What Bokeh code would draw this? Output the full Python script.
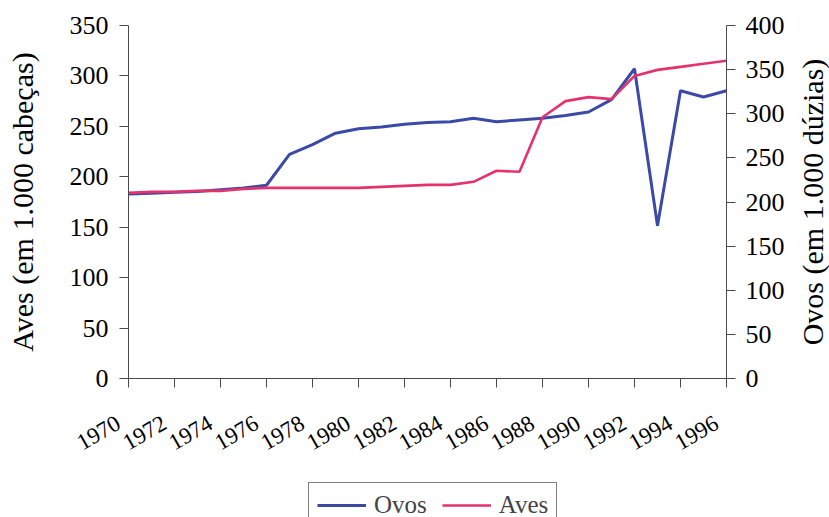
import math
from bokeh.plotting import figure
from bokeh.layouts import column, row
from bokeh.models import Range1d, LinearAxis, FixedTicker, Legend, LegendItem, Title
from bokeh.embed import file_html
from bokeh.resources import INLINE

years = list(range(1970, 1997))
ovos = [209, 210, 211, 212, 214, 216, 219, 254, 265, 278, 283, 285, 288, 290,
        291, 295, 291, 293, 295, 298, 302, 316, 351, 173, 326, 319, 326]
aves = [184, 185, 185, 186, 186, 188, 189, 189, 189, 189, 189, 190, 191, 192,
        192, 195, 206, 205, 259, 275, 279, 277, 300, 306, 309, 312, 315]
x_ticks = list(range(1970, 1997, 2))
left_ticks = list(range(0, 351, 50))
right_ticks = list(range(0, 401, 50))

FONT = "Liberation Serif"
BLUE = "#3a4aa6"
PINK = "#e5326c"
AXC = "#4a4a4a"
NBSP = "\u00a0"

p = figure(width=787, height=479, output_backend="svg", toolbar_location=None,
           x_range=Range1d(1970, 1996), y_range=Range1d(0, 350),
           min_border_left=128, min_border_right=58, min_border_top=25,
           min_border_bottom=101)
p.extra_y_ranges = {"ovos": Range1d(0, 400)}
p.outline_line_color = None
p.xgrid.visible = False
p.ygrid.visible = False
p.background_fill_color = "white"
p.border_fill_color = "white"

r_ovos = p.line(years, ovos, y_range_name="ovos", line_color=BLUE, line_width=3)
r_aves = p.line(years, aves, line_color=PINK, line_width=2.6)

right = LinearAxis(y_range_name="ovos")
p.add_layout(right, "right")

for ax in [p.xaxis[0], p.yaxis[0], right]:
    ax.axis_line_color = AXC
    ax.axis_line_width = 1
    ax.major_tick_line_color = AXC
    ax.major_tick_out = 9
    ax.major_tick_in = 0
    ax.minor_tick_out = 0
    ax.minor_tick_in = 0
    ax.major_label_text_font = FONT
    ax.major_label_text_font_size = "26px"
    ax.major_label_text_color = "black"
    ax.axis_label_text_font = FONT
    ax.axis_label_text_font_size = "30px"
    ax.axis_label_text_font_style = "normal"
    ax.axis_label_text_color = "black"

xa = p.xaxis[0]
xa.ticker = FixedTicker(ticks=x_ticks)
xa.major_label_overrides = {t: str(t) + NBSP * 2 for t in x_ticks}
xa.major_label_text_font_size = "23px"
xa.major_label_orientation = math.pi / 6
xa.major_label_standoff = 28

p.yaxis[0].ticker = FixedTicker(ticks=left_ticks)
p.yaxis[0].axis_label = "Aves (em 1.000 cabeças)"
p.yaxis[0].major_label_standoff = 11
p.yaxis[0].axis_label_standoff = 28

right.ticker = FixedTicker(ticks=right_ticks)
right.major_label_standoff = 10

# right-hand axis title, reading bottom to top like the left one
tfig = figure(width=42, height=479, output_backend="svg", toolbar_location=None,
              x_range=Range1d(0, 1), y_range=Range1d(0, 1),
              min_border_left=41, min_border_right=0, min_border_top=25,
              min_border_bottom=101)
tfig.axis.visible = False
tfig.xgrid.visible = False
tfig.ygrid.visible = False
tfig.outline_line_color = None
tfig.background_fill_color = "white"
tfig.border_fill_color = "white"
tfig.add_layout(Title(text="Ovos (em 1.000 dúzias)", align="center",
                      text_font=FONT, text_font_size="30px",
                      text_font_style="normal", text_color="black",
                      standoff=0), "left")

# legend strip below the chart
leg = figure(width=829, height=38, output_backend="svg", toolbar_location=None,
             x_range=Range1d(0, 1), y_range=Range1d(0, 1),
             min_border_left=128, min_border_right=0, min_border_top=0,
             min_border_bottom=0)
leg.axis.visible = False
leg.xgrid.visible = False
leg.ygrid.visible = False
leg.outline_line_color = None
leg.background_fill_color = "white"
leg.border_fill_color = "white"
nan = float("nan")
l_ovos = leg.line(x=[nan], y=[nan], line_color=BLUE, line_width=3)
l_aves = leg.line(x=[nan], y=[nan], line_color=PINK, line_width=2.6)

legend = Legend(items=[LegendItem(label="Ovos", renderers=[l_ovos]),
                       LegendItem(label="Aves", renderers=[l_aves])],
                location=(180, -11), orientation="horizontal",
                border_line_color="black", border_line_width=1,
                padding=8, spacing=15, label_standoff=8,
                glyph_width=49, glyph_height=20, margin=0,
                label_text_font=FONT, label_text_font_size="25px",
                background_fill_color="white", background_fill_alpha=1)
leg.add_layout(legend)

layout = column(row(p, tfig, spacing=0), leg, spacing=0)
open("out.html", "w").write(file_html(layout, INLINE))
